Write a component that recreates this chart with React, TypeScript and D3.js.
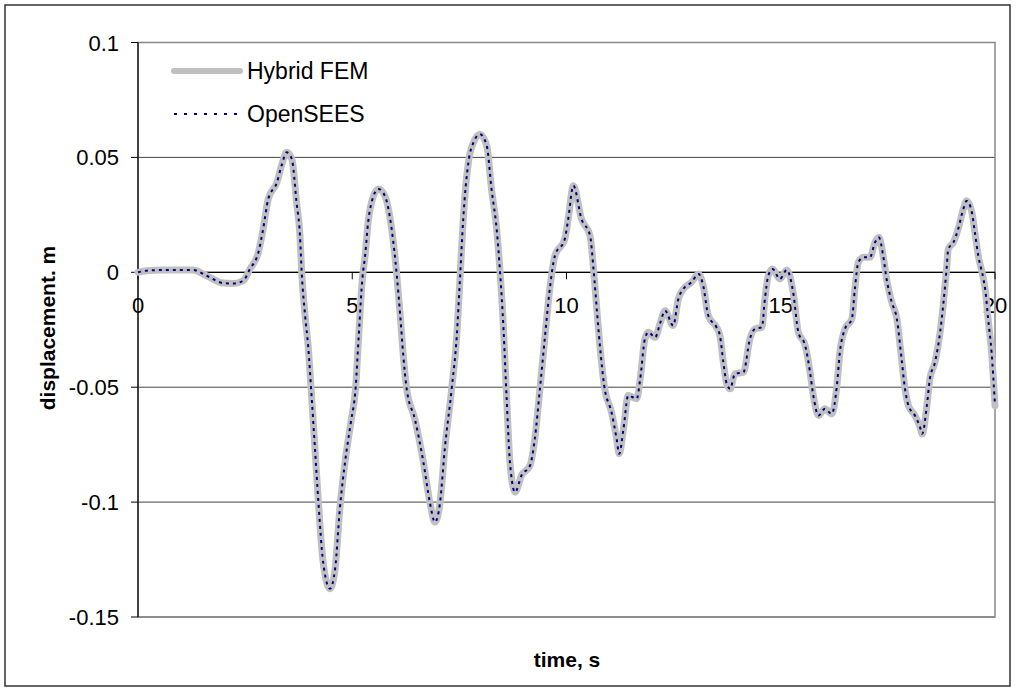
import { curveMonotoneX, line, scaleLinear } from "d3";

const times = [
  0, 0.2, 0.6, 1.29, 1.6, 1.99, 2.22, 2.46, 2.61, 2.81, 2.92, 3.04, 3.24, 3.35, 3.47, 3.59, 3.7, 3.78,
  3.82, 3.9, 3.97, 4.05, 4.13, 4.21, 4.32, 4.48, 4.6, 4.71, 4.85, 4.97, 5.08, 5.15, 5.24, 5.3, 5.37,
  5.45, 5.61, 5.76, 5.92, 6.04, 6.12, 6.19, 6.27, 6.46, 6.66, 6.81, 6.93, 7.05, 7.16, 7.32, 7.44, 7.51,
  7.59, 7.71, 7.83, 7.98, 8.14, 8.25, 8.37, 8.45, 8.53, 8.6, 8.68, 8.8, 8.95, 9.15, 9.26, 9.38, 9.5,
  9.61, 9.73, 9.96, 10.04, 10.16, 10.35, 10.55, 10.63, 10.72, 10.8, 10.88, 11.05, 11.17, 11.23, 11.33,
  11.44, 11.64, 11.72, 11.83, 11.91, 12.07, 12.18, 12.3, 12.49, 12.61, 12.73, 12.92, 13.08, 13.19,
  13.31, 13.5, 13.58, 13.66, 13.74, 13.82, 13.93, 14.13, 14.28, 14.4, 14.56, 14.63, 14.71, 14.81, 14.98,
  15.14, 15.29, 15.41, 15.57, 15.68, 15.76, 15.88, 16.03, 16.19, 16.31, 16.38, 16.5, 16.66, 16.73,
  16.81, 16.93, 17.08, 17.2, 17.29, 17.39, 17.47, 17.59, 17.71, 17.82, 17.9, 17.98, 18.13, 18.25, 18.3,
  18.41, 18.48, 18.6, 18.72, 18.79, 18.87, 18.91, 19.03, 19.14, 19.26, 19.34, 19.46, 19.53, 19.61,
  19.73, 19.78, 19.84, 19.92, 20,
];

const hybridFem = [
  0, 0.0007, 0.001, 0.001, -0.0015, -0.0047, -0.0049, -0.0036, 0.0014, 0.0087, 0.0188, 0.0319, 0.039,
  0.0464, 0.0522, 0.0493, 0.0304, 0.0159, 0, -0.0189, -0.0319, -0.0536, -0.0768, -0.1, -0.126, -0.1377,
  -0.129, -0.103, -0.08, -0.065, -0.05, -0.028, -0.002, 0.0072, 0.0217, 0.0304, 0.0362, 0.0333, 0.0188,
  -0.0014, -0.0189, -0.036, -0.0507, -0.0638, -0.0826, -0.1, -0.1087, -0.1, -0.0768, -0.0507, -0.0275,
  -0.0043, 0.0232, 0.0478, 0.0565, 0.0601, 0.055, 0.0362, 0.0188, 0, -0.0247, -0.0536, -0.0826, -0.0957,
  -0.0884, -0.084, -0.0725, -0.0507, -0.0275, -0.0072, 0.0072, 0.0145, 0.0232, 0.0377, 0.0232, 0.0159,
  0.0015, -0.019, -0.036, -0.0493, -0.0609, -0.0725, -0.079, -0.0681, -0.0536, -0.055, -0.0464, -0.029,
  -0.0261, -0.0283, -0.0225, -0.0167, -0.0232, -0.0116, -0.0072, -0.0043, -0.0007, -0.0058, -0.0189,
  -0.0239, -0.0275, -0.0391, -0.0486, -0.0507, -0.0442, -0.0435, -0.029, -0.0246, -0.0239, -0.0116,
  -0.0014, 0.0014, -0.0029, 0.001, -0.0087, -0.026, -0.0319, -0.043, -0.0536, -0.0623, -0.0594, -0.0616,
  -0.0493, -0.0348, -0.0246, -0.0203, -0.0072, 0.0043, 0.0065, 0.0065, 0.013, 0.0152, 0.0072, -0.0029,
  -0.013, -0.0203, -0.0377, -0.0507, -0.058, -0.0623, -0.0674, -0.0703, -0.058, -0.0464, -0.0391, -0.026,
  -0.0145, 0.0014, 0.0101, 0.013, 0.0188, 0.0275, 0.0311, 0.0261, 0.0174, 0.0072, -0.0029, -0.0087,
  -0.0203, -0.0348, -0.058,
];

const openSees = [
  0, 0.0007, 0.001, 0.001, -0.0015, -0.0047, -0.0049, -0.0036, 0.0014, 0.0087, 0.0188, 0.0319, 0.039,
  0.0464, 0.0522, 0.0493, 0.0304, 0.0159, 0, -0.0189, -0.0319, -0.0536, -0.0768, -0.1, -0.126, -0.1377,
  -0.129, -0.103, -0.08, -0.065, -0.05, -0.028, -0.002, 0.0072, 0.0217, 0.0304, 0.0362, 0.0333, 0.0188,
  -0.0014, -0.0189, -0.036, -0.0507, -0.0638, -0.0826, -0.1, -0.1087, -0.1, -0.0768, -0.0507, -0.0275,
  -0.0043, 0.0232, 0.0478, 0.0565, 0.0601, 0.055, 0.0362, 0.0188, 0, -0.0247, -0.0536, -0.0826, -0.0957,
  -0.0884, -0.084, -0.0725, -0.0507, -0.0275, -0.0072, 0.0072, 0.0145, 0.0232, 0.0377, 0.0232, 0.0159,
  0.0015, -0.019, -0.036, -0.0493, -0.0609, -0.0725, -0.079, -0.0681, -0.0536, -0.055, -0.0464, -0.029,
  -0.0261, -0.0283, -0.0225, -0.0167, -0.0232, -0.0116, -0.0072, -0.0043, -0.0007, -0.0058, -0.0189,
  -0.0239, -0.0275, -0.0391, -0.0486, -0.0507, -0.0442, -0.0435, -0.029, -0.0246, -0.0239, -0.0116,
  -0.0014, 0.0014, -0.0029, 0.001, -0.0087, -0.026, -0.0319, -0.043, -0.0536, -0.0623, -0.0594, -0.0616,
  -0.0493, -0.0348, -0.0246, -0.0203, -0.0072, 0.0043, 0.0065, 0.0065, 0.013, 0.0152, 0.0072, -0.0029,
  -0.013, -0.0203, -0.0377, -0.0507, -0.058, -0.0623, -0.0674, -0.0703, -0.058, -0.0464, -0.0391, -0.026,
  -0.0145, 0.0014, 0.0101, 0.013, 0.0188, 0.0275, 0.0311, 0.0261, 0.0174, 0.0072, -0.0029, -0.0087,
  -0.0203, -0.0348, -0.058,
];

const xTicks = [0, 5, 10, 15, 20];
const yTicks = [0.1, 0.05, 0, -0.05, -0.1, -0.15];
const yTickLabels = ["0.1", "0.05", "0", "-0.05", "-0.1", "-0.15"];
const seriesNames = ["Hybrid FEM", "OpenSEES"];

export default function App() {
  const width = 1016;
  const height = 692;
  const plotLeft = 138;
  const plotRight = 995;
  const plotTop = 42.5;
  const plotBottom = 617;
  const font = "'Liberation Sans', Arial, sans-serif";

  const x = scaleLinear().domain([0, 20]).range([plotLeft, plotRight]);
  const y = scaleLinear().domain([-0.15, 0.1]).range([plotBottom, plotTop]);

  const makePath = (values: number[]) =>
    line<number>()
      .x((_, i) => x(times[i]))
      .y((v) => y(v))
      .curve(curveMonotoneX)(values) ?? "";

  const hybridPath = makePath(hybridFem);
  const openSeesPath = makePath(openSees);

  return (
    <svg
      width={width}
      height={height}
      style={{ position: "absolute", left: 0, top: 0, background: "#fff" }}
      fontFamily={font}
    >
      <rect x={5} y={5} width={1005} height={681} fill="#fff" stroke="#333" strokeWidth={1.5} />

      {/* gridlines */}
      {yTicks.map((t) => (
        <line key={t} x1={plotLeft} x2={plotRight} y1={y(t)} y2={y(t)} stroke="#444" strokeWidth={1} />
      ))}
      <rect
        x={plotLeft}
        y={plotTop}
        width={plotRight - plotLeft}
        height={plotBottom - plotTop}
        fill="none"
        stroke="#888"
        strokeWidth={1.5}
      />

      {/* y axis */}
      <line x1={plotLeft} x2={plotLeft} y1={plotTop} y2={plotBottom} stroke="#000" strokeWidth={1.2} />
      {yTicks.map((t, i) => (
        <g key={t}>
          <line x1={plotLeft - 7} x2={plotLeft} y1={y(t)} y2={y(t)} stroke="#000" />
          <text x={119} y={y(t) + 8} textAnchor="end" fontSize={22} fill="#000">
            {yTickLabels[i]}
          </text>
        </g>
      ))}

      {/* x axis at zero */}
      <line x1={plotLeft} x2={plotRight} y1={y(0)} y2={y(0)} stroke="#000" strokeWidth={1.2} />
      {xTicks.map((t) => (
        <g key={t}>
          <line x1={x(t)} x2={x(t)} y1={y(0)} y2={y(0) + 7} stroke="#000" />
          <text x={x(t)} y={y(0) + 41} textAnchor="middle" fontSize={22} fill="#000">
            {t}
          </text>
        </g>
      ))}

      {/* series */}
      <path d={hybridPath} fill="none" stroke="#c0c0c0" strokeWidth={7} strokeLinejoin="round" strokeLinecap="round" />
      <path d={openSeesPath} fill="none" stroke="#000080" strokeWidth={2} strokeDasharray="3 4" />

      {/* legend */}
      <line x1={174} x2={240} y1={71} y2={71} stroke="#c0c0c0" strokeWidth={6} strokeLinecap="round" />
      <text x={247} y={79} fontSize={23} fill="#000">
        {seriesNames[0]}
      </text>
      <line x1={174} x2={240} y1={114} y2={114} stroke="#000080" strokeWidth={2} strokeDasharray="3 7" />
      <text x={247} y={122} fontSize={23} fill="#000">
        {seriesNames[1]}
      </text>

      {/* axis titles */}
      <text x={567} y={667} textAnchor="middle" fontSize={21} fontWeight="bold" fill="#000">
        time, s
      </text>
      <text
        transform="translate(55, 328) rotate(-90)"
        textAnchor="middle"
        fontSize={21}
        fontWeight="bold"
        fill="#000"
      >
        displacement. m
      </text>
    </svg>
  );
}
